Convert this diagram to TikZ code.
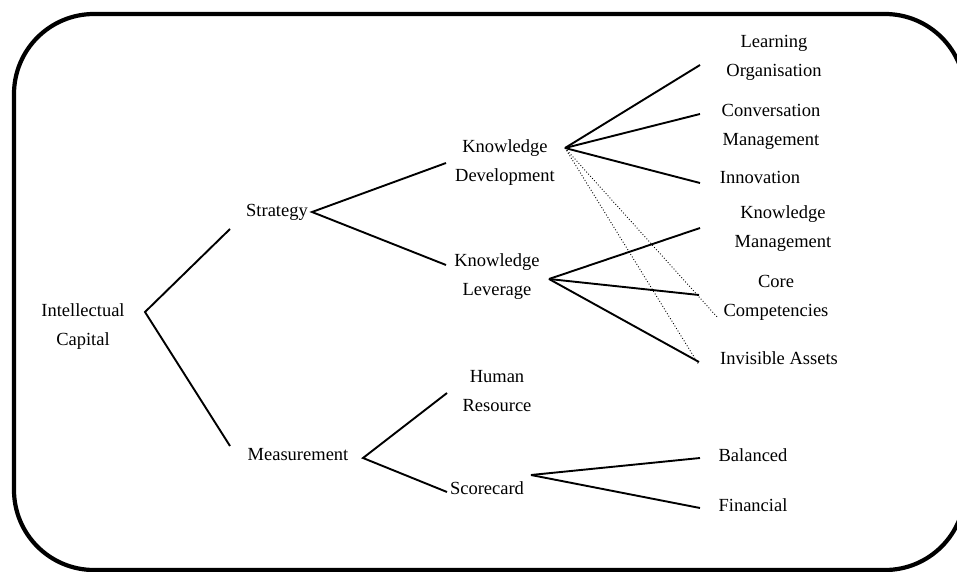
\documentclass[tikz,border=0pt]{standalone}
\usepackage{fontspec}
\setmainfont{Liberation Serif}
\begin{document}
\begin{tikzpicture}[x=1pt,y=-1pt,
  lbl/.style={inner sep=0pt,align=center,font=\fontsize{18.5}{29}\selectfont},
  conn/.style={line width=1.9pt},
  dots/.style={line width=0.9pt,dotted},
  frame/.style={line width=4.2pt,rounded corners=80pt}]
\useasboundingbox (0,0) rectangle (957,572);
\begin{scope}
\clip (0,0) rectangle (957,572);
\draw[frame] (14,14) rectangle (965,570);
\end{scope}

% text nodes
\node[lbl] (ic) at (83,327) {Intellectual\\Capital};
\node[lbl] (st) at (277,212) {Strategy};
\node[lbl] (me) at (298,455) {Measurement};
\node[lbl] (kd) at (505,163) {Knowledge\\Development};
\node[lbl] (kl) at (497,277) {Knowledge\\Leverage};
\node[lbl] (hr) at (497,391) {Human\\Resource};
\node[lbl] (sc) at (487,488) {Scorecard};
\node[lbl] (lo) at (774,58) {Learning\\Organisation};
\node[lbl] (cm) at (771,127) {Conversation\\Management};
\node[lbl] (in) at (760,177) {Innovation};
\node[lbl] (km) at (783,229) {Knowledge\\Management};
\node[lbl] (cc) at (776,298) {Core\\Competencies};
\node[lbl] (ia) at (779,358) {Invisible Assets};
\node[lbl] (ba) at (753,455) {Balanced};
\node[lbl] (fi) at (753,505) {Financial};

% junction points and line ends
\coordinate (ic-j) at (145,312);
\coordinate (st-in) at (230,229);
\coordinate (me-in) at (230,446);
\coordinate (st-j) at (312,212);
\coordinate (kd-in) at (446,163);
\coordinate (kl-in) at (446,265);
\coordinate (kd-j) at (565,148);
\coordinate (lo-in) at (700,65);
\coordinate (cm-in) at (700,114);
\coordinate (in-in) at (700,183);
\coordinate (kl-j) at (549,279);
\coordinate (km-in) at (700,228);
\coordinate (cc-in) at (699,295);
\coordinate (ia-in) at (699,362);
\coordinate (cc-dot) at (718,318);
\coordinate (ia-dot) at (699,365);
\coordinate (me-j) at (363,458);
\coordinate (hr-in) at (447,393);
\coordinate (sc-in) at (447,492);
\coordinate (sc-j) at (531,475);
\coordinate (ba-in) at (700,458);
\coordinate (fi-in) at (700,508);

\draw[conn] (st-in) -- (ic-j) -- (me-in);
\draw[conn] (kd-in) -- (st-j) -- (kl-in);
\draw[conn] (kd-j) -- (lo-in);
\draw[conn] (kd-j) -- (cm-in);
\draw[conn] (kd-j) -- (in-in);
\draw[conn] (kl-j) -- (km-in);
\draw[conn] (kl-j) -- (cc-in);
\draw[conn] (kl-j) -- (ia-in);
\draw[dots] (kd-j) -- (cc-dot);
\draw[dots] (kd-j) -- (ia-dot);
\draw[conn] (hr-in) -- (me-j) -- (sc-in);
\draw[conn] (sc-j) -- (ba-in);
\draw[conn] (sc-j) -- (fi-in);
\end{tikzpicture}
\end{document}
